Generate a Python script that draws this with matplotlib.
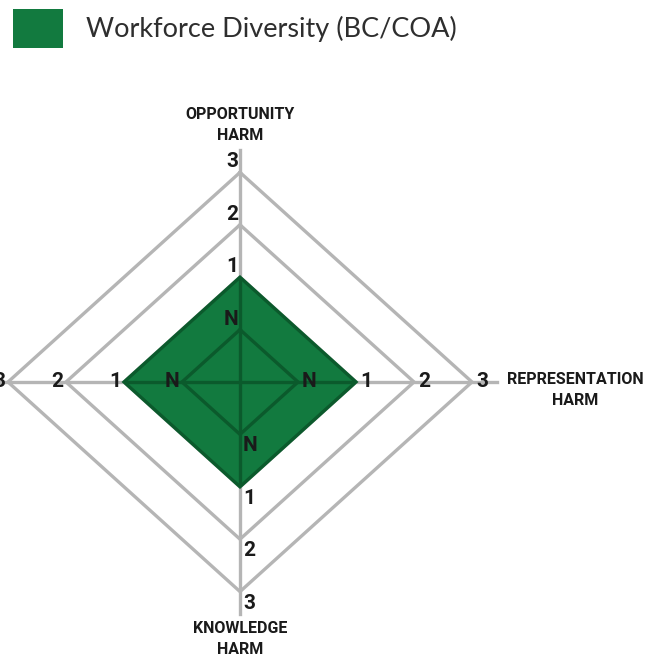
import numpy as np
import matplotlib
matplotlib.use('Agg')
import matplotlib.pyplot as plt
from matplotlib.patches import Polygon, Rectangle

# data
series_name = 'Workforce Diversity (BC/COA)'
axes_titles = ['OPPORTUNITY\nHARM', 'REPRESENTATION\nHARM', 'KNOWLEDGE\nHARM', '']
level_labels = ['N', '1', '2', '3']
series_values = [1, 1, 1, 1]  # level "1" on every axis

GRID = '#b5b5b5'
GREEN = '#127a3f'
DARK = '#0b5a2c'
cond = ['Roboto', 'DejaVu Sans']

fig = plt.figure(figsize=(6.49, 6.61), dpi=100)
ax = fig.add_axes([0, 0, 1, 1])
# centre sits at (240, 382) px, 58 px per level across, 52.4 px per level up/down
ax.set_xlim(-240 / 58, 409 / 58)
ax.set_ylim(-279 / 52.4, 382 / 52.4)
ax.axis('off')

dirs = [(0, 1), (1, 0), (0, -1), (-1, 0)]
radii = np.arange(1, len(level_labels) + 1)
axis_end = 4.43

# grey grid
for r in radii[1:]:
    xs = [d[0] * r for d in dirs] + [0]
    ys = [d[1] * r for d in dirs] + [r]
    ax.plot(xs, ys, color=GRID, lw=2.4, zorder=1, solid_joinstyle='miter')
ax.plot([0, 0], [-axis_end, axis_end], color=GRID, lw=2.4, zorder=1)
ax.plot([-axis_end, axis_end], [0, 0], color=GRID, lw=2.4, zorder=1)

# series polygon
vals = [level_labels.index(str(v)) + 1 for v in series_values]
pts = [(d[0] * v, d[1] * v) for d, v in zip(dirs, vals)]
poly = Polygon(pts, closed=True, facecolor=GREEN, edgecolor=DARK, lw=2.4,
               zorder=3, joinstyle='miter')
ax.add_patch(poly)

# inner lines drawn dark over the fill
clip = Polygon(pts, closed=True, transform=ax.transData)
r0 = radii[0]
inner = [ax.plot([d[0] * r0 for d in dirs] + [0], [d[1] * r0 for d in dirs] + [r0],
                 color=DARK, lw=2.4, zorder=4)[0],
         ax.plot([0, 0], [-axis_end, axis_end], color=DARK, lw=2.4, zorder=4)[0],
         ax.plot([-axis_end, axis_end], [0, 0], color=DARK, lw=2.4, zorder=4)[0]]
for ln in inner:
    ln.set_clip_path(clip)

# level labels
for r, lab in zip(radii, level_labels):
    kw = dict(textcoords='offset pixels', fontsize=15, fontweight='bold',
              family=cond, color='#1a1a1a', zorder=6)
    ax.annotate(lab, (0, r), xytext=(-2, 1), ha='right', va='bottom', **kw)
    ax.annotate(lab, (r, 0), xytext=(4, 0), ha='left', va='center', **kw)
    ax.annotate(lab, (0, -r), xytext=(3, -2), ha='left', va='top', **kw)
    ax.annotate(lab, (-r, 0), xytext=(-3, 0), ha='right', va='center', **kw)

# axis titles
tkw = dict(textcoords='offset pixels', fontsize=11.5, fontweight='bold',
           family=cond, color='#1a1a1a', multialignment='center', linespacing=1.5)
ax.annotate(axes_titles[0], (0, axis_end), xytext=(0, 7), ha='center', va='bottom', **tkw)
ax.annotate(axes_titles[1], (axis_end, 0), xytext=(10, 10), ha='left', va='top', **tkw)
ax.annotate(axes_titles[2], (0, -axis_end), xytext=(0, -7), ha='center', va='top', **tkw)
ax.annotate(axes_titles[3], (-axis_end, 0), xytext=(-10, 10), ha='right', va='top', **tkw)

# legend
fig.add_artist(Rectangle((13 / 649, 1 - 48 / 661), 50 / 649, 39 / 661,
                         transform=fig.transFigure, facecolor=GREEN, edgecolor='none'))
fig.text(86 / 649, 1 - 29 / 661, series_name, fontsize=19.5, family=['Lato', 'DejaVu Sans'],
         fontweight='normal', color='#2e2e2e', va='center', ha='left')

fig.savefig('out.png', dpi=100)
